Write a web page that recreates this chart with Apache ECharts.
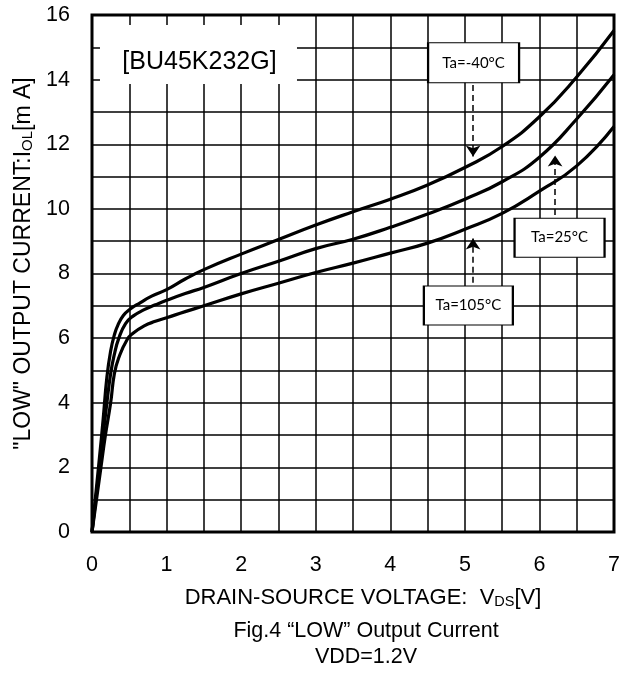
<!DOCTYPE html>
<html>
<head>
<meta charset="utf-8">
<script src="https://cdn.jsdelivr.net/npm/echarts@6/dist/echarts.min.js"></script>
<style>html,body{margin:0;padding:0;background:#fff}#c{width:637px;height:673px}</style>
</head>
<body>
<div id="c"></div>
<script>
// ---- data ----
const xTickLabels = ['0','1','2','3','4','5','6','7'];
const yTickLabels = ['0','2','4','6','8','10','12','14','16'];
const seriesNames = ['Ta=-40°C', 'Ta=25°C', 'Ta=105°C'];
const vdsM40 = [0,0.1,0.15,0.2,0.25,0.3,0.35,0.42,0.5,0.65,0.8,1,1.25,1.5,2,2.5,3,3.5,4,4.5,5,5.5,6,6.5,7];
const iolM40 = [0,2.3,3.5,4.8,5.6,6.1,6.42,6.7,6.88,7.1,7.3,7.5,7.83,8.12,8.6,9.05,9.5,9.91,10.3,10.74,11.28,11.93,12.85,14.08,15.52];
const vds25  = [0,0.1,0.15,0.2,0.25,0.3,0.36,0.45,0.55,0.7,0.85,1,1.25,1.5,2,2.5,3,3.5,4,4.5,5,5.5,6,6.5,7];
const iol25  = [0,2.0,3.0,4.0,4.9,5.5,6.0,6.45,6.68,6.88,7.03,7.17,7.38,7.57,8.0,8.38,8.77,9.06,9.43,9.84,10.3,10.84,11.6,12.78,14.15];
const vds105 = [0,0.12,0.18,0.25,0.3,0.36,0.47,0.55,0.7,0.85,1,1.25,1.5,2,2.5,3,3.5,4,4.5,5,5.5,6,6.5,7];
const iol105 = [0,2.0,3.0,4.0,4.9,5.4,5.95,6.15,6.38,6.52,6.63,6.82,7.0,7.37,7.7,8.03,8.32,8.63,8.94,9.37,9.86,10.55,11.33,12.55];
const deviceLabel = '[BU45K232G]';

function zip(xs, ys) { return xs.map((x, i) => [x, ys[i]]); }

const FONT = 'Liberation Sans, Arial, sans-serif';
const chart = echarts.init(document.getElementById('c'), null, {renderer: 'canvas'});

const lineStyle = {color: '#000', width: 3.2};

const option = {
  animation: false,
  backgroundColor: '#fff',
  grid: {left: 92, right: 23, top: 15, bottom: 141, show: true, borderColor: '#000', borderWidth: 3, backgroundColor: 'transparent'},
  xAxis: {
    type: 'value', min: 0, max: 7, interval: 0.5,
    axisLine: {show: false}, axisTick: {show: false},
    splitLine: {show: true, lineStyle: {color: '#000', width: 1.5}},
    axisLabel: {
      color: '#000', fontSize: 21.5, fontFamily: FONT, margin: 22,
      formatter: v => Number.isInteger(v) ? xTickLabels[v] : ''
    },
    name: 'DRAIN-SOURCE VOLTAGE:  V{sub|DS}[V]',
    nameLocation: 'middle', nameGap: 54,
    nameTextStyle: {
      color: '#000', fontSize: 22, fontFamily: FONT, padding: [0, 0, 0, 20],
      rich: {sub: {fontSize: 14.5, fontFamily: FONT, color: '#000', verticalAlign: 'bottom', padding: [8, 0, 0, 0]}}
    }
  },
  yAxis: {
    type: 'value', min: 0, max: 16, interval: 1,
    axisLine: {show: false}, axisTick: {show: false},
    splitLine: {show: true, lineStyle: {color: '#000', width: 1.5}},
    axisLabel: {
      color: '#000', fontSize: 21.5, fontFamily: FONT, margin: 22,
      formatter: v => (v % 2 === 0) ? yTickLabels[v / 2] : ''
    },
    name: '"LOW" OUTPUT CURRENT:I{sub|OL}[m A]',
    nameLocation: 'middle', nameGap: 57,
    nameTextStyle: {
      color: '#000', fontSize: 23, fontFamily: FONT, padding: [0, 0, 0, 20],
      rich: {sub: {fontSize: 15, fontFamily: FONT, color: '#000', verticalAlign: 'bottom', padding: [8, 0, 0, 0]}}
    }
  },
  series: [
    {
      name: seriesNames[0], type: 'line', data: zip(vdsM40, iolM40),
      symbol: 'none', smooth: 0.5, lineStyle: lineStyle,
      markPoint: {
        silent: true,
        data: [
          {name: deviceLabel, coord: [1.428, 14.78], symbol: 'rect', symbolSize: [197, 59],
           itemStyle: {color: '#fff', borderWidth: 0},
           label: {show: true, formatter: '{b}', color: '#000', fontSize: 25, fontFamily: FONT, offset: [1, 8]}},
          {name: seriesNames[0], coord: [5.117, 14.52], symbol: 'rect', symbolSize: [91, 40],
           itemStyle: {color: '#fff', borderColor: '#000', borderWidth: 1.5},
           label: {show: true, formatter: '{b}', color: '#000', fontSize: 15, fontFamily: 'Lato, sans-serif'}},
          {name: seriesNames[1], coord: [6.27, 9.11], symbol: 'rect', symbolSize: [90, 39],
           itemStyle: {color: '#fff', borderColor: '#000', borderWidth: 1.5},
           label: {show: true, formatter: '{b}', color: '#000', fontSize: 15, fontFamily: 'Lato, sans-serif'}},
          {name: seriesNames[2], coord: [5.047, 7.01], symbol: 'rect', symbolSize: [89, 39],
           itemStyle: {color: '#fff', borderColor: '#000', borderWidth: 1.5},
           label: {show: true, formatter: '{b}', color: '#000', fontSize: 15, fontFamily: 'Lato, sans-serif'}}
        ]
      },
      markLine: {
        silent: true, symbol: ['none', 'arrow'], symbolSize: 11,
        label: {show: false},
        lineStyle: {color: '#000', width: 1.5, type: [6, 4]},
        data: [
          [{coord: [5.11, 13.83]}, {coord: [5.11, 11.62]}],
          [{coord: [6.21, 9.81]}, {coord: [6.21, 11.65]}],
          [{coord: [5.11, 7.71]}, {coord: [5.11, 9.08]}]
        ]
      }
    },
    {name: seriesNames[1], type: 'line', data: zip(vds25, iol25), symbol: 'none', smooth: 0.5, lineStyle: lineStyle},
    {name: seriesNames[2], type: 'line', data: zip(vds105, iol105), symbol: 'none', smooth: 0.5, lineStyle: lineStyle}
  ],
  graphic: [
    {type: 'text', x: 366, y: 644, silent: true,
     style: {text: 'Fig.4 “LOW” Output Current\nVDD=1.2V', fill: '#000', fontSize: 21.5, fontFamily: FONT,
             textAlign: 'center', textVerticalAlign: 'middle', lineHeight: 26}}
  ]
};
chart.setOption(option);
</script>
</body>
</html>
